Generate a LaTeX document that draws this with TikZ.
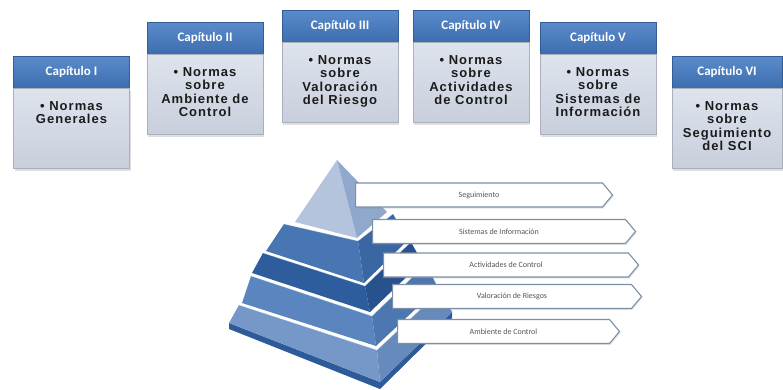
\documentclass[tikz,border=0pt]{standalone}
\usepackage{fontspec}
\usetikzlibrary{positioning,shapes.symbols,shadows}

\newfontfamily\cabfont{Carlito}
\newfontfamily\cuerpofont[LetterSpace=8]{Liberation Sans}

\definecolor{azulA}{HTML}{5A8BCB}
\definecolor{azulB}{HTML}{3C6DAE}
\definecolor{grisA}{HTML}{DEE3EC}
\definecolor{grisB}{HTML}{C8CFDC}
\definecolor{texto}{HTML}{1B1B1B}
\definecolor{borde}{HTML}{7D8FA8}
\definecolor{letrero}{HTML}{555555}
% escalones de la piramide: cara izquierda / cara derecha
\definecolor{base}{HTML}{2D5A98}
\definecolor{esc5i}{HTML}{7698C8}
\definecolor{esc5d}{HTML}{678ABC}
\definecolor{esc4i}{HTML}{5B85BF}
\definecolor{esc4d}{HTML}{4D77B0}
\definecolor{esc3i}{HTML}{2E5D9D}
\definecolor{esc3d}{HTML}{28528D}
\definecolor{esc2i}{HTML}{4876B3}
\definecolor{esc2d}{HTML}{3A66A3}
\definecolor{esc1i}{HTML}{B3C4DC}
\definecolor{esc1d}{HTML}{8FA8CB}

% texto de cada capitulo, alineado arriba
\newcommand{\normas}[2][110pt]{\parbox[t][54pt][t]{#1}{\centering\cuerpofont\bfseries\fontsize{13}{13.5}\selectfont #2}}

\begin{document}
\begin{tikzpicture}[x=1pt,y=-1pt]
    \tikzstyle{cabecera}=[rectangle, minimum width=116pt, minimum height=32pt, inner sep=0pt,
        top color=azulA, bottom color=azulB, draw=azulB!85!black, line width=0.4pt,
        text=white, font=\cabfont\bfseries\fontsize{13}{13}\selectfont, anchor=north]
    \tikzstyle{cuerpo}=[rectangle, minimum width=116pt, inner xsep=3pt, inner ysep=13pt,
        top color=grisA, bottom color=grisB, draw=grisB!85!black, line width=0.3pt,
        text=texto, drop shadow={opacity=0.25, shadow xshift=1pt, shadow yshift=-2pt}]
    \tikzstyle{flecha}=[signal, signal to=east, signal pointer angle=100, minimum height=24pt,
        inner sep=0pt, draw=borde, line width=1.1pt, fill=white,
        drop shadow={opacity=0.2, shadow xshift=1pt, shadow yshift=-1.5pt},
        text=letrero, font=\cabfont\fontsize{8}{8}\selectfont, anchor=west]

    \useasboundingbox (0,0) rectangle (783,390);

    % capitulos
    \node[cabecera] (cab1) at (71.5,56) {Capítulo I};
    \node[cuerpo, below=0pt of cab1] (cue1) {\normas{• Normas\\Generales}};
    \node[cabecera] (cab2) at (205,22) {Capítulo II};
    \node[cuerpo, below=0pt of cab2] (cue2) {\normas{• Normas\\sobre\\Ambiente de\\Control}};
    \node[cabecera] (cab3) at (340,10) {Capítulo III};
    \node[cuerpo, below=0pt of cab3] (cue3) {\normas{• Normas\\sobre\\Valoración\\del Riesgo}};
    \node[cabecera] (cab4) at (471,10) {Capítulo IV};
    \node[cuerpo, below=0pt of cab4] (cue4) {\normas{• Normas\\sobre\\Actividades\\de Control}};
    \node[cabecera] (cab5) at (598,22) {Capítulo V};
    \node[cuerpo, below=0pt of cab5] (cue5) {\normas{• Normas\\sobre\\Sistemas de\\Información}};
    \node[cabecera, minimum width=110pt] (cab6) at (727,56) {Capítulo VI};
    \node[cuerpo, minimum width=110pt, below=0pt of cab6] (cue6) {\normas[104pt]{• Normas\\sobre\\Seguimiento\\del SCI}};

    % piramide, de abajo hacia arriba
    \fill[base] (229,323) -- (380,382) -- (452,312) -- (452,318) -- (380,389) -- (229,329) -- cycle;
    \fill[esc5i] (239,305) -- (377,350) -- (380,382) -- (229,323) -- cycle;
    \fill[esc5d] (377,350) -- (441,290) -- (452,312) -- (380,382) -- cycle;
    \fill[esc4i] (251,276) -- (372,316) -- (376,346) -- (242,303) -- cycle;
    \fill[esc4d] (372,316) -- (426,264) -- (438,288) -- (376,346) -- cycle;
    \fill[esc3i] (263,253) -- (365,286) -- (370,312) -- (252,273) -- cycle;
    \fill[esc3d] (365,286) -- (411,242) -- (422,262) -- (370,312) -- cycle;
    \fill[esc2i] (284,224) -- (358,241) -- (364,283) -- (266,251) -- cycle;
    \fill[esc2d] (358,241) -- (393,214) -- (408,240) -- (364,283) -- cycle;
    \fill[esc1i] (337,160) -- (357,238) -- (295,222) -- cycle;
    \fill[esc1d] (337,160) -- (387,212) -- (357,238) -- cycle;
    % bordes claros de cada escalon
    \draw[white, opacity=0.35, line width=0.8pt] (239,305) -- (377,350) -- (441,290);
    \draw[white, opacity=0.35, line width=0.8pt] (251,276) -- (372,316) -- (426,264);
    \draw[white, opacity=0.25, line width=0.8pt] (263,253) -- (365,286) -- (411,242);
    \draw[white, opacity=0.25, line width=0.8pt] (284,224) -- (358,241) -- (393,214);

    % componentes
    \node[flecha, minimum width=257pt] (seg) at (355,195) {Seguimiento};
    \node[flecha, minimum width=263pt] (sis) at (372,231.5) {Sistemas de Información};
    \node[flecha, minimum width=255pt] (act) at (383,265) {Actividades de Control};
    \node[flecha, minimum width=249pt] (val) at (392,296.5) {Valoración de Riesgos};
    \node[flecha, minimum width=222pt] (amb) at (397,331.5) {Ambiente de Control};
\end{tikzpicture}
\end{document}
